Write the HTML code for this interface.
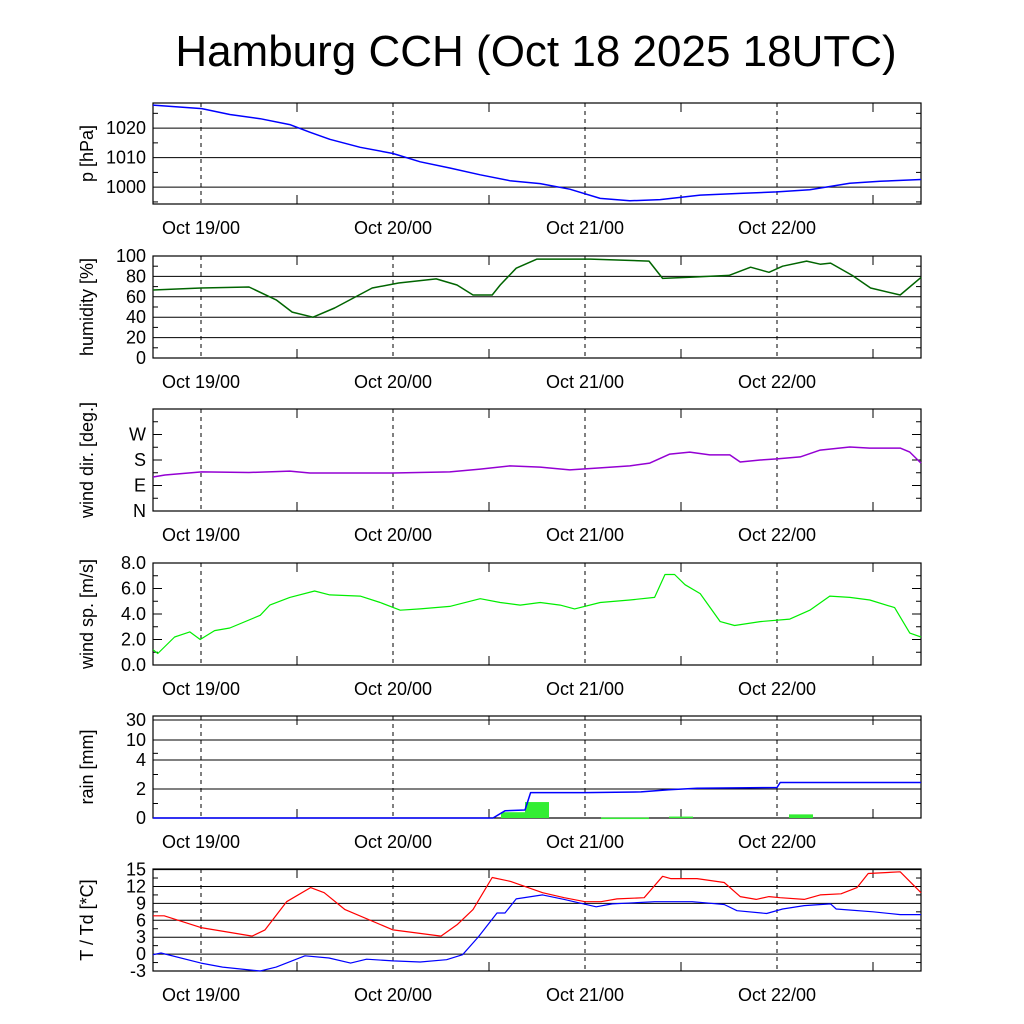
<!DOCTYPE html>
<html><head><meta charset="utf-8"><style>
body{margin:0;background:#fff}
svg{display:block;font-family:"Liberation Sans",sans-serif}
</style></head><body>
<svg id="c" width="1024" height="1024" viewBox="0 0 1024 1024">
<text x="536" y="66" font-size="44" text-anchor="middle">Hamburg CCH (Oct 18 2025 18UTC)</text>
</svg>
<script>
// time in hours from Oct 18 18UTC
const dayLabels=["Oct 19/00","Oct 20/00","Oct 21/00","Oct 22/00"];
const dayHours=[6,30,54,78];
const presT=[0,6.1,9.6,13.4,17.1,19.6,22.1,25.9,30,33.4,37.1,40.9,44.6,48.4,52.1,55.9,59.6,63.4,68.4,73.4,78,82.1,87.1,90.9,96];
const presV=[1027.8,1026.6,1024.6,1023.2,1021.2,1018.6,1016.2,1013.5,1011.4,1008.6,1006.5,1004.2,1002.2,1001.2,999.3,996.2,995.4,995.8,997.3,997.9,998.4,999.1,1001.3,1002.0,1002.6];
const humT=[0,6,12,15.4,17.4,20,22.7,27.4,30.7,35.4,38,40,42.4,43.4,45.4,48,54.7,62,63.7,66.7,72,74.7,77,78.7,81.7,83.4,84.7,87.4,89.7,93.4,96];
const humV=[66.7,68.6,69.6,57,45,40,49,68.6,73.5,77.5,71.6,61.8,61.8,71.6,88,97,97,95,78,79,81,89,84,90,95,92,93,81,68.6,61.8,79];
const dirT=[0,1.5,6.1,12,17.1,19.6,30,37.1,40.9,44.6,48.4,52.1,55.9,59.6,62.1,64.6,67.1,69.6,72.1,73.4,75.9,78,80.9,83.4,87.1,89.6,93.4,94.6,96];
const dirV=[120,127,138,136,141,134,134,138,148,159,155,145,152,159,169,201,208,198,198,173,180,184,191,215,226,222,222,208,169];
const wsT=[0,0.6,2.7,4.6,5.9,7.7,9.6,13.4,14.6,17.1,20.2,22.1,25.9,28.4,30.9,33.4,37.1,40.9,43.4,45.9,48.4,50.9,52.7,55.9,59.6,62.7,64,65.2,66.5,68.4,70.9,72.7,75.9,79.6,82.1,84.6,87.1,89.6,92.7,94.6,96];
const wsV=[1.2,0.9,2.2,2.6,2.0,2.7,2.9,3.9,4.7,5.3,5.8,5.5,5.4,4.9,4.3,4.4,4.6,5.2,4.9,4.7,4.9,4.7,4.4,4.9,5.1,5.3,7.1,7.1,6.3,5.6,3.4,3.1,3.4,3.6,4.3,5.4,5.3,5.1,4.5,2.5,2.2];
const rainBarT=[43.5,46.5,56,64.5,79.5];
const rainBarV=[0.4,1.1,0.03,0.1,0.25];
const rainBarW=[3,3,6,3,3];
const rainCumT=[0,42.5,44,46.5,47.2,54,61,64.5,68,78,78.4,96];
const rainCumV=[0,0,0.5,0.55,1.75,1.75,1.8,1.95,2.05,2.1,2.45,2.45];
const tT=[0,1.4,6,12.4,14,16.7,19.7,21.4,24,30,36,38,40,42.4,44.7,48.7,51.4,54,56,58,61.4,63.7,64.7,68,71.4,73.4,75.4,77,78.4,81.4,83.4,86,88,89.4,93.4,96];
const tV=[6.8,6.8,4.7,3.2,4.3,9.3,11.8,10.9,7.9,4.3,3.2,5.2,7.9,13.6,12.9,10.9,10.0,9.3,9.3,9.8,10,13.8,13.4,13.4,12.7,10.2,9.7,10.2,10,9.7,10.5,10.7,11.8,14.3,14.6,10.9];
const tdT=[0,1,6,8.7,13.4,15.4,19,22,24.7,26.7,30,33.4,36.7,38.7,40.7,43,44,45.4,48.7,51.4,55.4,57.4,62.7,67.4,71.4,73,76.7,78.7,81.4,84.7,85.4,90,93.4,96];
const tdV=[-0.1,0.2,-1.6,-2.3,-3,-2.3,-0.3,-0.7,-1.6,-0.9,-1.2,-1.4,-1.0,-0.1,3.1,7.3,7.3,9.8,10.5,9.7,8.4,8.9,9.3,9.3,8.8,7.7,7.2,8.0,8.6,8.9,8.0,7.5,7.0,7.0];

const svg=document.getElementById('c');
const NS="http://www.w3.org/2000/svg";
const X0=153,X1=921;
const xs=h=>X0+(X1-X0)*h/96;
function mk(tag,attrs,parent){const e=document.createElementNS(NS,tag);for(const k in attrs)e.setAttribute(k,attrs[k]);(parent||svg).appendChild(e);return e;}
function lin(d0,d1,r0,r1){return v=>r0+(v-d0)*(r1-r0)/(d1-d0);}
function pw(ds,rs){return v=>{for(let i=0;i<ds.length-1;i++){if(v<=ds[i+1])return rs[i]+(v-ds[i])*(rs[i+1]-rs[i])/(ds[i+1]-ds[i]);}return rs[rs.length-1];};}

const panels=[
 {name:"pressure",top:103,bot:204,title:"p [hPa]",y:lin(994.3,1028.5,204,103),ticks:[1000,1010,1020],labels:["1000","1010","1020"],minor:[995,1005,1015,1025]},
 {name:"humidity",top:256,bot:358,title:"humidity [%]",y:lin(0,100,358,256),ticks:[0,20,40,60,80,100],labels:["0","20","40","60","80","100"],minor:[10,30,50,70,90]},
 {name:"wind-dir",top:409,bot:511,title:"wind dir. [deg.]",y:lin(0,360,511,409),ticks:[0,90,180,270],labels:["N","E","S","W"],minor:[45,135,225,315],nogrid:true},
 {name:"wind-speed",top:563,bot:665,title:"wind sp. [m/s]",y:lin(0,8,665,563),ticks:[0,2,4,6,8],labels:["0.0","2.0","4.0","6.0","8.0"],minor:[1,3,5,7],nogrid:true},
 {name:"rain",top:716,bot:818,title:"rain [mm]",y:pw([0,2,4,10,30,40],[818,789,760,740,720,716]),ticks:[0,2,4,10,30],labels:["0","2","4","10","30"],minor:[1,3,6]},
 {name:"temperature",top:869,bot:971,title:"T / Td [*C]",y:lin(-3,15.1,971,869),ticks:[-3,0,3,6,9,12,15],labels:["-3","0","3","6","9","12","15"],minor:[-1.5,1.5,4.5,7.5,10.5,13.5]}
];

function line(ts,vs,y,color,name,w){
  const pts=ts.map((t,i)=>xs(t).toFixed(1)+","+y(vs[i]).toFixed(1)).join(" ");
  const e=mk('polyline',{points:pts,fill:"none",stroke:color,"stroke-width":w||1.5,"stroke-linejoin":"round"});
  
  
}

panels.forEach(p=>{
  const g=mk('g',{});
  
  
  p.ticks.forEach((v,i)=>{
    const yy=p.y(v);
    if(!p.nogrid){const gl=mk('line',{x1:X0,x2:X1,y1:yy,y2:yy,stroke:"#000","stroke-width":1},g);
      }
    else{mk('line',{x1:X0,x2:X0+9,y1:yy,y2:yy,stroke:"#000"},g);mk('line',{x1:X1-9,x2:X1,y1:yy,y2:yy,stroke:"#000"},g);}
    const t=mk('text',{x:146,y:yy+6,"font-size":18,"text-anchor":"end"},g);
    t.textContent=p.labels[i];
    
    
  });
  p.minor.forEach(v=>{const yy=p.y(v);mk('line',{x1:X0,x2:X0+5,y1:yy,y2:yy,stroke:"#000"},g);mk('line',{x1:X1-5,x2:X1,y1:yy,y2:yy,stroke:"#000"},g);});
  dayHours.forEach((h,i)=>{
    const xx=xs(h);
    const d=mk('line',{x1:xx,x2:xx,y1:p.top,y2:p.bot,stroke:"#000","stroke-dasharray":"4,4"},g);
    
    const t=mk('text',{x:xx,y:p.bot+30,"font-size":18,"text-anchor":"middle"},g);
    t.textContent=dayLabels[i];
    
    
    const hx=xs(h+12);
    mk('line',{x1:hx,x2:hx,y1:p.bot-9,y2:p.bot,stroke:"#000"},g);
    mk('line',{x1:hx,x2:hx,y1:p.top,y2:p.top+9,stroke:"#000"},g);
  });
  const b=mk('rect',{x:X0,y:p.top,width:X1-X0,height:p.bot-p.top,fill:"none",stroke:"#000","stroke-width":1.2},g);
  
  const cy=(p.top+p.bot)/2;
  const at=mk('text',{x:0,y:0,"font-size":18,"text-anchor":"middle",transform:`translate(93,${cy}) rotate(-90)`},g);
  at.textContent=p.title;
  
  
});

line(presT,presV,panels[0].y,"#0000ff","pressure-line");
line(humT,humV,panels[1].y,"#006400","humidity-line");
line(dirT,dirV,panels[2].y,"#9400d3","wind-direction-line");
line(wsT,wsV,panels[3].y,"#00ee00","wind-speed-line",1.2);
const ry=panels[4].y;
rainBarT.forEach((t,i)=>{
  const y0=ry(0),y1=ry(rainBarV[i]);
  const r=mk('rect',{x:xs(t),y:y1,width:xs(t+rainBarW[i])-xs(t),height:Math.max(1.5,y0-y1),fill:"#33ee33"});
  
  
});
line(rainCumT,rainCumV,ry,"#0000ff","rain-cumulative-line");
line(tT,tV,panels[5].y,"#ff0000","temperature-line",1.2);
line(tdT,tdV,panels[5].y,"#0000ff","dewpoint-line",1.2);
</script>
</body></html>
